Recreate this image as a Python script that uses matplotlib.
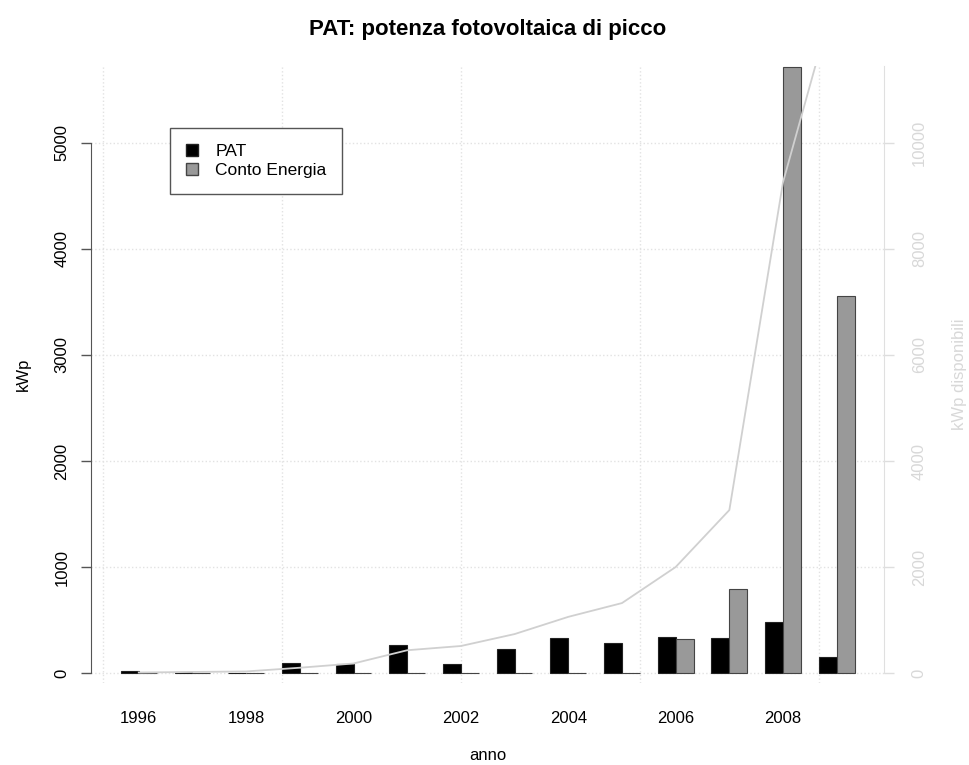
import numpy as np
import matplotlib
matplotlib.use("Agg")
import matplotlib.pyplot as plt
from matplotlib.patches import Patch

plt.rcParams['font.family'] = ['Liberation Sans', 'DejaVu Sans']

# dati
anni = [1996, 1997, 1998, 1999, 2000, 2001, 2002, 2003, 2004, 2005, 2006, 2007, 2008, 2009]
pat = [15, 8, 5, 90, 82, 264, 82, 224, 333, 280, 342, 333, 478, 148]
conto_energia = [0, 0, 0, 0, 0, 0, 0, 0, 0, 0, 321, 790, 5720, 3560]
kwp_disponibili = [10, 20, 30, 100, 180, 430, 510, 735, 1060, 1320, 2000, 3075, 9264, 12900]

n = len(anni)
# posizioni stile barplot(beside=TRUE): gruppo di 2 barre + 1 spazio
pos_pat = np.arange(n) * 3 + 1.5
pos_conto = np.arange(n) * 3 + 2.5
centri = np.arange(n) * 3 + 2.0

W, H = 970, 765
fig = plt.figure(figsize=(W / 100, H / 100), dpi=100)
left, right, top, bottom = 91.5, 884, 66, 683
ax = fig.add_axes([left / W, 1 - bottom / H, (right - left) / W, (bottom - top) / H])

ax.set_xlim(-0.64, 43.64)
ax.set_ylim(-94, 5726)

# griglia tratteggiata
for gx in [0, 10, 20, 30, 40]:
    ax.axvline(gx, color='#e2e2e2', linestyle=':', linewidth=1, zorder=0)
for gy in range(0, 6000, 1000):
    ax.axhline(gy, color='#e2e2e2', linestyle=':', linewidth=1, zorder=0)

ax.bar(pos_pat, pat, width=1, color='black', edgecolor='#222222', linewidth=0.8, zorder=2)
ax.bar(pos_conto, conto_energia, width=1, color='#999999', edgecolor='#444444', linewidth=0.8, zorder=2)

# asse x: etichette ogni due anni
ax.set_xticks(centri[::2])
ax.set_xticklabels([str(a) for a in anni[::2]], fontsize=12)
ax.tick_params(axis='x', length=0, pad=20)
ax.set_xlabel('anno', fontsize=12, labelpad=16)

# asse y sinistro
ax.set_yticks(range(0, 6000, 1000))
ax.tick_params(axis='y', length=7, width=1, color='#555555', pad=9, labelsize=12)
plt.setp(ax.get_yticklabels(), rotation=90, va='center')
ax.set_ylabel('kWp', fontsize=12, labelpad=17)

for s in ['top', 'right', 'bottom']:
    ax.spines[s].set_visible(False)
ax.spines['left'].set_bounds(0, 5000)
ax.spines['left'].set_color('#555555')

# asse destro: potenza cumulata
ax2 = ax.twinx()
ax2.set_ylim(-188, 11452)
ax2.plot(centri, kwp_disponibili, color='#d0d0d0', linewidth=1.3, zorder=3)
ax2.set_yticks(range(0, 12000, 2000))
ax2.tick_params(axis='y', length=7, width=1, color='#dedede', labelcolor='#d8d8d8', pad=13, labelsize=12)
plt.setp(ax2.get_yticklabels(), rotation=90, va='center')
ax2.set_ylabel('kWp disponibili', fontsize=12, color='#d8d8d8', labelpad=18)
for s in ['top', 'left', 'bottom']:
    ax2.spines[s].set_visible(False)
ax2.spines['right'].set_bounds(0, 11452)
ax2.spines['right'].set_color('#e0e0e0')

fig.text(0.5 * (left + right) / W, 1 - 30 / H, 'PAT: potenza fotovoltaica di picco',
         ha='center', va='center', fontsize=16, fontweight='bold')

handles = [Patch(facecolor='black', edgecolor='#222222'),
           Patch(facecolor='#999999', edgecolor='#444444')]
leg = ax.legend(handles, ['PAT', 'Conto Energia'], loc='upper left',
                bbox_to_anchor=((170 - left) / (right - left), 1 - (128 - top) / (bottom - top)),
                fontsize=12.5, fancybox=False, framealpha=1, edgecolor='#555555',
                handlelength=0.7, handleheight=0.7, borderpad=0.9, labelspacing=0.25,
                handletextpad=1.0, borderaxespad=0)
leg.get_frame().set_linewidth(1)

fig.savefig('out.png', dpi=100)
